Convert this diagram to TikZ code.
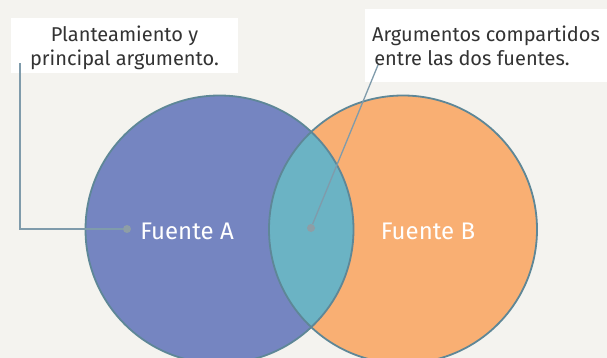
\documentclass[tikz,border=0pt]{standalone}
\usepackage{fontspec}
\setmainfont{Fira Sans}
\usetikzlibrary{positioning}
\definecolor{paper}{HTML}{F4F3EF}
\definecolor{fuenteA}{HTML}{7585C1}
\definecolor{fuenteB}{HTML}{F9AF73}
\definecolor{shared}{HTML}{6BB3C4}
\definecolor{rim}{HTML}{5E8797}
\definecolor{leader}{HTML}{7F9BAB}
\definecolor{pingray}{HTML}{8E9EA6}

\begin{document}
\begin{tikzpicture}[x=1pt, y=-1pt,
  venn/.style={circle, minimum size=268pt, inner sep=0pt},
  callout/.style={fill=white, align=center, inner sep=0pt, text depth=0pt, text=black!80, font=\fontsize{20}{24}\selectfont},
  tag/.style={text=white, font=\fontsize{24}{28}\selectfont},
  pin/.style={circle, fill=pingray, minimum size=8pt, inner sep=0pt},
  leaderline/.style={draw=leader, line width=1.3pt}]
\clip (0,0) rectangle (607,358);
\fill[paper] (0,0) rectangle (607,358);
% the two sources
\node[venn, fill=fuenteA] (A) at (219.5,229.5) {};
\node[venn, fill=fuenteB] (B) at (403,229.5) {};
\begin{scope}
  \clip (A.center) circle (134pt);
  \fill[shared] (B.center) circle (134pt);
\end{scope}
\draw[rim, line width=1.8pt] (A.center) circle (134pt) (B.center) circle (134pt);
\node[tag] (tagA) at (187,231) {Fuente A};
\node[tag] (tagB) at (428,231) {Fuente B};
% callouts
\node[callout, minimum width=227pt, minimum height=55pt] (noteA) at (124.5,45.5) {Planteamiento y\\principal argumento.};
\node[callout, minimum width=242pt, minimum height=73pt] (noteB) at (486,45.5) {Argumentos compartidos\\entre las dos fuentes.\hspace*{28pt}};
\node[pin] (pinA) at (127,229) {};
\node[pin] (pinB) at (311,228) {};
\coordinate (endA) at (20,63);
\coordinate (endB) at (378,65);
\draw[leaderline] (pinA) -| (endA);
\draw[leaderline] (pinB) -- (endB);
\end{tikzpicture}
\end{document}
